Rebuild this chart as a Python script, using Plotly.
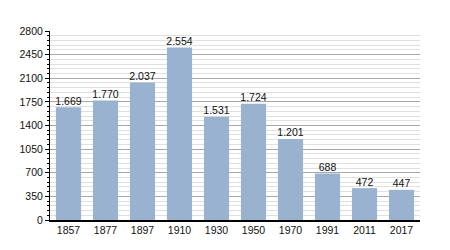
import plotly.graph_objects as go

years = ["1857", "1877", "1897", "1910", "1930", "1950", "1970", "1991", "2011", "2017"]
population = [1669, 1770, 2037, 2554, 1531, 1724, 1201, 688, 472, 447]
yticks = [0, 350, 700, 1050, 1400, 1750, 2100, 2450, 2800]

labels = [f"{v:,}".replace(",", ".") for v in population]

fig = go.Figure()
fig.add_trace(go.Bar(
    x=years, y=population,
    marker=dict(color="#98b2cf", line=dict(width=0)),
    width=0.68, hoverinfo="skip",
))
fig.add_trace(go.Scatter(
    x=years, y=population, text=labels, mode="text", textposition="top center",
    textfont=dict(size=10.5, color="#111"), cliponaxis=False, hoverinfo="skip",
))
fig.update_layout(
    width=450, height=250, margin=dict(l=50, r=30, t=31, b=30),
    paper_bgcolor="white", plot_bgcolor="white",
    font=dict(family="Liberation Sans, Arial", size=10.5, color="#111"),
    showlegend=False,
)
fig.update_yaxes(
    range=[0, 2800], tickvals=yticks, ticktext=[str(t) for t in yticks],
    showgrid=True, gridcolor="#a8a8a8", gridwidth=1,
    showline=True, linecolor="black", linewidth=1,
    ticks="outside", ticklen=4, tickcolor="black",
    minor=dict(dtick=70, tick0=0, showgrid=True, gridcolor="#e0e0e0", ticks="outside", ticklen=2, tickcolor="black"),
    zeroline=False,
)
fig.update_xaxes(
    showline=True, linecolor="black", linewidth=1.5, ticks="", showgrid=False,
)
fig.write_html("out.html")
